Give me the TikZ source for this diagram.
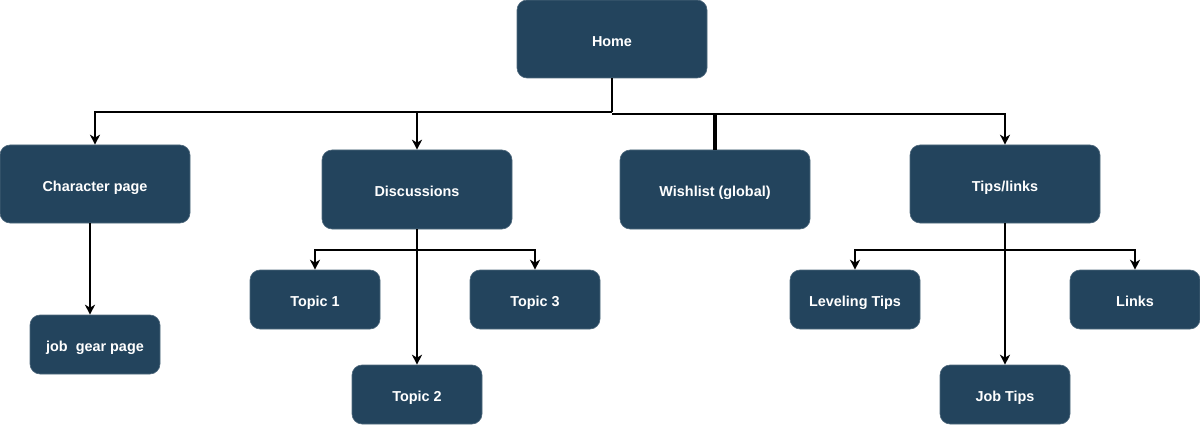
\documentclass[tikz,border=0pt]{standalone}
\usepackage{fontspec}
\setmainfont{Liberation Sans}
\usetikzlibrary{arrows.meta}
\definecolor{boxblue}{HTML}{23445D}
\begin{document}
\begin{tikzpicture}[x=1pt,y=-1pt,
  box/.style={draw=boxblue!80!white, line width=0.6pt, fill=boxblue, text=white, rounded corners=10pt,
    font=\fontsize{14.4}{16}\selectfont\bfseries, inner sep=0pt, text height=14.6pt, text depth=0.4pt, anchor=center},
  big/.style={box, minimum width=190pt, minimum height=79pt},
  small/.style={box, minimum width=130pt, minimum height=59pt},
  conn/.style={draw=black, line width=1.6pt},
  arr/.style={conn, -{Stealth[length=10pt,width=10pt,inset=3pt]}}]
\useasboundingbox (0,0) rectangle (1200,425);
\node[big, minimum height=78pt] (home) at (612,39) {Home};
\node[big, minimum height=78pt] (char) at (95,184) {Character page};
\node[big] (disc) at (417,189.5) {Discussions};
\node[big] (wish) at (715,189.5) {Wishlist (global)};
\node[big, minimum height=78pt] (tips) at (1005,184) {Tips/links};
\node[small] (job) at (95,344.5) {job\ \ gear page};
\node[small] (t1) at (315,299.5) {Topic 1};
\node[small] (t3) at (535,299.5) {Topic 3};
\node[small] (t2) at (417,394.5) {Topic 2};
\node[small] (lev) at (855,299.5) {Leveling Tips};
\node[small] (links) at (1135,299.5) {Links};
\node[small] (jobt) at (1005,394.5) {Job Tips};
\coordinate (hj) at (612,112);
\coordinate (hr) at (612,114);
\coordinate (dj) at (417,250);
\coordinate (tj) at (1005,250);
% from Home
\draw[conn] (home.south) -- (hj);
\draw[arr] (hj) -| (char.north);
\draw[arr] (hj) -| (disc.north);
\draw[arr] (hr) -| (tips.north);
\draw[draw=black, line width=3.2pt] (wish.north) -- (wish.north |- hr);
% from Character page
\draw[arr] ([xshift=-5pt]char.south) -- ([xshift=-5pt]job.north);
% from Discussions
\draw[arr] (disc.south) -- (t2.north);
\draw[arr] (dj) -| (t1.north);
\draw[arr] (dj) -| (t3.north);
% from Tips/links
\draw[arr] (tips.south) -- (jobt.north);
\draw[arr] (tj) -| (lev.north);
\draw[arr] (tj) -| (links.north);
\end{tikzpicture}
\end{document}
